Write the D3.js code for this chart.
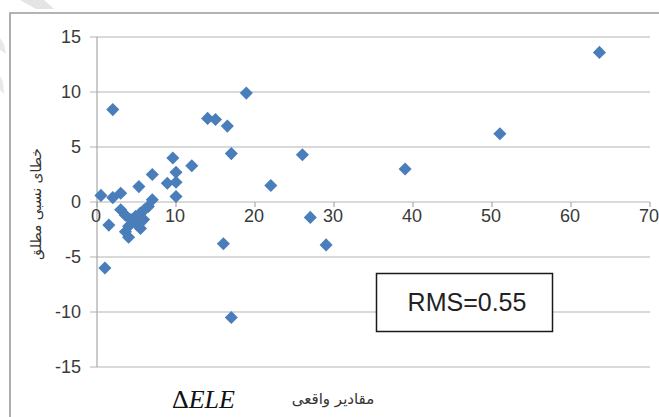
<!DOCTYPE html>
<html>
<head>
<meta charset="utf-8">
<title>RMS scatter</title>
<style>
  body { margin: 0; padding: 0; background: #fff; }
  svg { display: block; }
  .tick-label { font-family: "Liberation Sans", Arial, sans-serif; font-size: 18px; fill: #3a3a3a; }
</style>
</head>
<body>
<div id="chart"></div>
<script src="https://d3js.org/d3.v7.min.js"></script>
<script>
// values
const xValues = [63.6, 51.0, 39.0, 26.0, 22.0, 27.0, 29.0, 18.9, 14.0, 15.0, 16.5, 17.0, 16.0, 17.0,
  2.0, 12.0, 9.6, 10.0, 10.0, 8.9, 10.0, 7.0, 5.3, 7.0, 0.5, 2.0, 3.0, 6.5, 3.0, 3.6, 1.5,
  4.3, 4.9, 5.5, 6.0, 4.0, 4.9, 5.9, 3.6, 4.0, 5.5, 1.0];
const yValues = [13.6, 6.2, 3.0, 4.3, 1.5, -1.4, -3.9, 9.9, 7.6, 7.5, 6.9, 4.4, -3.8, -10.5,
  8.4, 3.3, 4.0, 2.7, 1.8, 1.7, 0.5, 2.5, 1.4, 0.2, 0.6, 0.4, 0.8, -0.4, -0.7, -1.2, -2.1,
  -1.6, -1.3, -1.0, -0.7, -2.2, -1.9, -1.6, -2.7, -3.2, -2.4, -6.0];
const xTicks = [0, 10, 20, 30, 40, 50, 60, 70];
const yTicks = [15, 10, 5, 0, -5, -10, -15];
const rmsLabel = "RMS=0.55";

const width = 659, height = 417;

const svg = d3.select("#chart").append("svg")
  .attr("width", width)
  .attr("height", height);

// faint watermark fragments in the corner
svg.append("path").attr("d", "M20,0 L44,0 L54,9 L36,9 Z").attr("fill", "#e4e4e4");
svg.append("path").attr("d", "M0,38 L4,44 L6,54 L0,50 Z").attr("fill", "#e8e8e8");
svg.append("path").attr("d", "M0,76 L3,82 L4,94 L0,90 Z").attr("fill", "#e8e8e8");

// outer chart frame
svg.append("path")
  .attr("d", `M10,${height + 2} L10,13 L${width + 2},13`)
  .attr("fill", "none")
  .attr("stroke", "#9a9a9a")
  .attr("stroke-width", 1.6);

const x = d3.scaleLinear().domain([0, 70]).range([97, 650]);
const y = d3.scaleLinear().domain([-15, 15]).range([367, 37]);

// horizontal gridlines (with small tick stubs left of the axis)
svg.append("g")
  .selectAll("line")
  .data(yTicks)
  .join("line")
  .attr("x1", 90)
  .attr("x2", x(70))
  .attr("y1", d => y(d))
  .attr("y2", d => y(d))
  .attr("stroke", "#b4b4b4")
  .attr("stroke-width", 1.2);

// vertical axis
svg.append("line")
  .attr("x1", x(0)).attr("x2", x(0))
  .attr("y1", y(15)).attr("y2", y(-15))
  .attr("stroke", "#a8a8a8")
  .attr("stroke-width", 1.2);

// x tick marks on the zero line
svg.append("g")
  .selectAll("line")
  .data(xTicks)
  .join("line")
  .attr("x1", d => x(d)).attr("x2", d => x(d))
  .attr("y1", y(0)).attr("y2", y(0) + 5)
  .attr("stroke", "#a8a8a8")
  .attr("stroke-width", 1.2);

// y tick labels
svg.append("g")
  .selectAll("text")
  .data(yTicks)
  .join("text")
  .attr("class", "tick-label")
  .attr("x", 81)
  .attr("y", d => y(d))
  .attr("dy", "0.36em")
  .attr("text-anchor", "end")
  .text(d => d);

// x tick labels
svg.append("g")
  .selectAll("text")
  .data(xTicks)
  .join("text")
  .attr("class", "tick-label")
  .attr("x", d => x(d) - 1)
  .attr("y", y(0) + 20)
  .attr("text-anchor", "middle")
  .text(d => d);

// points
const diamond = d3.symbol().type(d3.symbolSquare).size(86);
svg.append("g")
  .selectAll("path")
  .data(d3.zip(xValues, yValues))
  .join("path")
  .attr("d", diamond)
  .attr("transform", d => `translate(${x(d[0])},${y(d[1])}) rotate(45)`)
  .attr("fill", "#4a7ebb");

// RMS box
svg.append("rect")
  .attr("x", 376.5).attr("y", 273.5)
  .attr("width", 176).attr("height", 58)
  .attr("fill", "#fff")
  .attr("stroke", "#1a1a1a")
  .attr("stroke-width", 1.5);

svg.append("text")
  .attr("x", 467).attr("y", 302)
  .attr("dy", "0.36em")
  .attr("text-anchor", "middle")
  .attr("font-family", "'Liberation Sans', Arial, sans-serif")
  .attr("font-size", 25)
  .attr("fill", "#222")
  .text(rmsLabel);

// axis titles
svg.append("text")
  .attr("transform", "translate(41,204) rotate(-90)")
  .attr("text-anchor", "middle")
  .attr("font-family", "'DejaVu Sans', 'Noto Sans', sans-serif")
  .attr("font-size", 14)
  .attr("fill", "#333")
  .text("خطای نسبی مطلق");

const dele = svg.append("text")
  .attr("x", 172).attr("y", 408)
  .attr("font-family", "'Liberation Serif', 'Times New Roman', serif")
  .attr("font-size", 26)
  .attr("fill", "#111");
dele.append("tspan").text("Δ");
dele.append("tspan").attr("font-style", "italic").text("ELE");

svg.append("text")
  .attr("x", 333).attr("y", 404)
  .attr("text-anchor", "middle")
  .attr("font-family", "'DejaVu Sans', 'Noto Sans', sans-serif")
  .attr("font-size", 15)
  .attr("fill", "#333")
  .text("مقادیر واقعی");
</script>
</body>
</html>
